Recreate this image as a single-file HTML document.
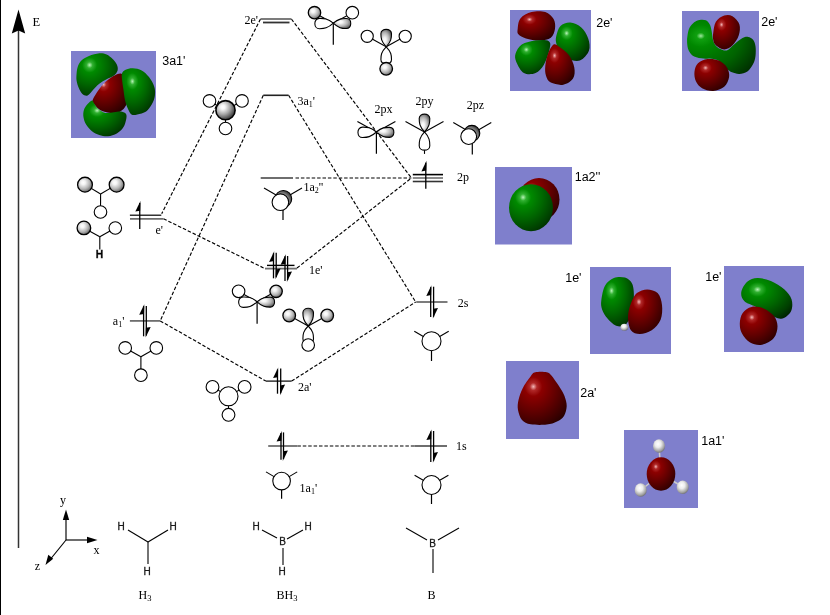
<!DOCTYPE html>
<html><head><meta charset="utf-8"><style>
html,body{margin:0;padding:0;background:#fff;width:830px;height:615px;overflow:hidden}
svg{display:block;will-change:transform}
</style></head><body>
<svg width="830" height="615" viewBox="0 0 830 615">
<defs>
<radialGradient id="gs" cx="0.38" cy="0.36" r="0.72"><stop offset="0" stop-color="#fff"/><stop offset="0.2" stop-color="#f4f4f4"/><stop offset="0.6" stop-color="#b4b4b4"/><stop offset="0.85" stop-color="#787878"/><stop offset="1" stop-color="#484848"/></radialGradient>
<radialGradient id="gr" cx="0.32" cy="0.28" r="0.9"><stop offset="0" stop-color="#f4b8b8"/><stop offset="0.08" stop-color="#b02828"/><stop offset="0.2" stop-color="#8c0000"/><stop offset="0.5" stop-color="#640000"/><stop offset="0.8" stop-color="#3a0000"/><stop offset="1" stop-color="#1a0000"/></radialGradient>
<radialGradient id="gg" cx="0.32" cy="0.28" r="0.9"><stop offset="0" stop-color="#b8f4b8"/><stop offset="0.08" stop-color="#30b030"/><stop offset="0.2" stop-color="#008a00"/><stop offset="0.5" stop-color="#006600"/><stop offset="0.8" stop-color="#003e00"/><stop offset="1" stop-color="#001a00"/></radialGradient>
<radialGradient id="gg2" cx="0.2" cy="0.3" r="1.0"><stop offset="0" stop-color="#a0e8a0"/><stop offset="0.06" stop-color="#10a010"/><stop offset="0.2" stop-color="#008800"/><stop offset="0.6" stop-color="#006200"/><stop offset="1" stop-color="#002600"/></radialGradient>
<radialGradient id="gd" cx="0.3" cy="0.7" r="0.9"><stop offset="0.5" stop-color="#aaa"/><stop offset="0.75" stop-color="#555"/><stop offset="1" stop-color="#111"/></radialGradient>
<radialGradient id="gs2" cx="0.36" cy="0.34" r="0.75"><stop offset="0" stop-color="#fff"/><stop offset="0.15" stop-color="#f6f6f6"/><stop offset="0.5" stop-color="#a8a8a8"/><stop offset="0.8" stop-color="#555"/><stop offset="1" stop-color="#222"/></radialGradient>
<radialGradient id="gh" cx="0.42" cy="0.35" r="0.72"><stop offset="0" stop-color="#fff"/><stop offset="0.35" stop-color="#ececec"/><stop offset="0.75" stop-color="#a0a0a0"/><stop offset="1" stop-color="#5a5a5a"/></radialGradient>
</defs>
<rect x="0" y="0" width="830" height="615" fill="#fff"/>
<rect x="0" y="0" width="1" height="615" fill="#000"/>
<line x1="18.5" y1="30" x2="18.5" y2="548" stroke="#333" stroke-width="1.5" />
<path d="M18.5,9.5 L11.8,33.5 L18.5,30.5 L25.2,33.5 Z" fill="#000"/>
<text x="32.5" y="26.3" font-family="Liberation Serif" font-size="12.5" fill="#000" text-anchor="start" >E</text>
<line x1="260.5" y1="19" x2="161.7" y2="213.7" stroke="#000" stroke-width="1.15" stroke-dasharray="3.5,1.9" />
<line x1="291.4" y1="19" x2="411.4" y2="178" stroke="#000" stroke-width="1.15" stroke-dasharray="3.5,1.9" />
<line x1="263.3" y1="95.3" x2="160.2" y2="320.9" stroke="#000" stroke-width="1.15" stroke-dasharray="3.5,1.9" />
<line x1="288.6" y1="95.3" x2="415.7" y2="302" stroke="#000" stroke-width="1.15" stroke-dasharray="3.5,1.9" />
<line x1="295.5" y1="178" x2="411.4" y2="178" stroke="#000" stroke-width="1.15" stroke-dasharray="3.5,1.9" />
<line x1="163.5" y1="218.8" x2="265" y2="268.6" stroke="#000" stroke-width="1.15" stroke-dasharray="3.5,1.9" />
<line x1="297" y1="268" x2="411.4" y2="178" stroke="#000" stroke-width="1.15" stroke-dasharray="3.5,1.9" />
<line x1="160.2" y1="320.9" x2="265.8" y2="381.1" stroke="#000" stroke-width="1.15" stroke-dasharray="3.5,1.9" />
<line x1="291.6" y1="381.1" x2="415.7" y2="302" stroke="#000" stroke-width="1.15" stroke-dasharray="3.5,1.9" />
<line x1="297.4" y1="446" x2="414.3" y2="446" stroke="#000" stroke-width="1.15" stroke-dasharray="3.5,1.9" />
<line x1="260.5" y1="19" x2="291.4" y2="19" stroke="#6e6e6e" stroke-width="1.8" />
<line x1="263" y1="22.5" x2="289.5" y2="22.5" stroke="#333" stroke-width="1.8" />
<text x="258" y="23.5" font-family="Liberation Serif" font-size="12" fill="#000" text-anchor="end" >2e'</text>
<line x1="263.3" y1="95.3" x2="288.6" y2="95.3" stroke="#222" stroke-width="1.6" />
<text x="297.5" y="104.7" font-family="Liberation Serif" font-size="12" fill="#000" text-anchor="start" >3a<tspan font-size='8' dy='2'>1</tspan><tspan dy='-2'>'</tspan></text>
<line x1="260.7" y1="178" x2="293" y2="178" stroke="#6e6e6e" stroke-width="2" />
<text x="303.5" y="191" font-family="Liberation Serif" font-size="12" fill="#000" text-anchor="start" >1a<tspan font-size='8' dy='2'>2</tspan><tspan dy='-2'>''</tspan></text>
<line x1="412.8" y1="174.6" x2="443" y2="174.6" stroke="#000" stroke-width="1.6" />
<line x1="412.8" y1="178" x2="443" y2="178" stroke="#6e6e6e" stroke-width="1.6" />
<line x1="412.8" y1="181.5" x2="443" y2="181.5" stroke="#333" stroke-width="1.6" />
<line x1="425.8" y1="162.8" x2="425.8" y2="188.7" stroke="#000" stroke-width="1.3"/>
<path d="M426.5,160.8 L421.40000000000003,171.4 L426.2,170.60000000000002 Z" fill="#000"/>
<text x="457" y="181" font-family="Liberation Serif" font-size="12" fill="#000" text-anchor="start" >2p</text>
<line x1="129.9" y1="215.3" x2="161.3" y2="215.3" stroke="#333" stroke-width="1.6" />
<line x1="130" y1="218.8" x2="163.5" y2="218.8" stroke="#6e6e6e" stroke-width="1.8" />
<line x1="139.75" y1="202.9" x2="139.75" y2="229" stroke="#000" stroke-width="1.3"/>
<path d="M140.45,200.9 L135.35,211.5 L140.15,210.70000000000002 Z" fill="#000"/>
<text x="155.5" y="234" font-family="Liberation Serif" font-size="12" fill="#000" text-anchor="start" >e'</text>
<line x1="267" y1="265.4" x2="294.5" y2="265.4" stroke="#000" stroke-width="1.4" />
<line x1="265" y1="268.6" x2="297" y2="268.6" stroke="#6e6e6e" stroke-width="1.8" />
<line x1="273.5" y1="253.3" x2="273.5" y2="278.3" stroke="#000" stroke-width="1.3"/>
<path d="M274.2,251.3 L269.1,261.90000000000003 L273.9,261.1 Z" fill="#000"/>
<line x1="276.2" y1="252.7" x2="276.2" y2="277.2" stroke="#000" stroke-width="1.3"/>
<path d="M275.5,279.2 L280.59999999999997,268.59999999999997 L275.8,269.4 Z" fill="#000"/>
<line x1="285" y1="256.2" x2="285" y2="281" stroke="#000" stroke-width="1.3"/>
<path d="M285.7,254.2 L280.6,264.8 L285.4,264.0 Z" fill="#000"/>
<line x1="287.6" y1="256" x2="287.6" y2="280" stroke="#000" stroke-width="1.3"/>
<path d="M286.90000000000003,282 L292.0,271.4 L287.20000000000005,272.2 Z" fill="#000"/>
<text x="309" y="274.4" font-family="Liberation Serif" font-size="12" fill="#000" text-anchor="start" >1e'</text>
<line x1="129.9" y1="320.9" x2="160.2" y2="320.9" stroke="#6e6e6e" stroke-width="1.8" />
<line x1="143.6" y1="306.2" x2="143.6" y2="336.3" stroke="#000" stroke-width="1.3"/>
<path d="M144.29999999999998,304.2 L139.2,314.8 L144.0,314.0 Z" fill="#000"/>
<line x1="146.3" y1="305.9" x2="146.3" y2="335.5" stroke="#000" stroke-width="1.3"/>
<path d="M145.60000000000002,337.5 L150.70000000000002,326.9 L145.9,327.7 Z" fill="#000"/>
<text x="112.8" y="324.9" font-family="Liberation Serif" font-size="12" fill="#000" text-anchor="start" >a<tspan font-size='8' dy='2'>1</tspan><tspan dy='-2'>'</tspan></text>
<line x1="416.2" y1="302" x2="447.5" y2="302" stroke="#6e6e6e" stroke-width="1.8" />
<line x1="430.7" y1="287.3" x2="430.7" y2="317" stroke="#000" stroke-width="1.3"/>
<path d="M431.4,285.3 L426.3,295.90000000000003 L431.09999999999997,295.1 Z" fill="#000"/>
<line x1="433.6" y1="286.7" x2="433.6" y2="316.6" stroke="#000" stroke-width="1.3"/>
<path d="M432.90000000000003,318.6 L438.0,308.0 L433.20000000000005,308.8 Z" fill="#000"/>
<text x="457.8" y="306.5" font-family="Liberation Serif" font-size="12" fill="#000" text-anchor="start" >2s</text>
<line x1="265.8" y1="381.1" x2="291.6" y2="381.1" stroke="#000" stroke-width="1.2" />
<line x1="277.5" y1="369.5" x2="277.5" y2="393.7" stroke="#000" stroke-width="1.3"/>
<path d="M278.2,367.5 L273.1,378.1 L277.9,377.3 Z" fill="#000"/>
<line x1="280.7" y1="368.6" x2="280.7" y2="393.2" stroke="#000" stroke-width="1.3"/>
<path d="M280.0,395.2 L285.09999999999997,384.59999999999997 L280.3,385.4 Z" fill="#000"/>
<text x="297.9" y="390.5" font-family="Liberation Serif" font-size="12" fill="#000" text-anchor="start" >2a'</text>
<line x1="268.2" y1="446" x2="297.4" y2="446" stroke="#6e6e6e" stroke-width="1.8" />
<line x1="281" y1="433" x2="281" y2="459.8" stroke="#000" stroke-width="1.3"/>
<path d="M281.7,431 L276.6,441.6 L281.4,440.8 Z" fill="#000"/>
<line x1="283.5" y1="432.4" x2="283.5" y2="459" stroke="#000" stroke-width="1.3"/>
<path d="M282.8,461 L287.9,450.4 L283.1,451.2 Z" fill="#000"/>
<text x="299.6" y="492" font-family="Liberation Serif" font-size="12" fill="#000" text-anchor="start" >1a<tspan font-size='8' dy='2'>1</tspan><tspan dy='-2'>'</tspan></text>
<line x1="414.3" y1="446" x2="447" y2="446" stroke="#6e6e6e" stroke-width="1.8" />
<line x1="430.8" y1="431.4" x2="430.8" y2="461.9" stroke="#000" stroke-width="1.3"/>
<path d="M431.5,429.4 L426.40000000000003,440.0 L431.2,439.2 Z" fill="#000"/>
<line x1="433.6" y1="431" x2="433.6" y2="460.7" stroke="#000" stroke-width="1.3"/>
<path d="M432.90000000000003,462.7 L438.0,452.09999999999997 L433.20000000000005,452.9 Z" fill="#000"/>
<text x="456" y="450" font-family="Liberation Serif" font-size="12" fill="#000" text-anchor="start" >1s</text>
<line x1="100.6" y1="194" x2="85" y2="184.65" stroke="#000" stroke-width="1.1" />
<line x1="100.6" y1="194" x2="116.6" y2="184.65" stroke="#000" stroke-width="1.1" />
<line x1="100.6" y1="194" x2="100.5" y2="212" stroke="#000" stroke-width="1.1" />
<circle cx="85" cy="184.65" r="7.4" fill="url(#gs)" stroke="#000" stroke-width="1.3"/>
<circle cx="116.6" cy="184.65" r="7.4" fill="url(#gs)" stroke="#000" stroke-width="1.3"/>
<circle cx="100.5" cy="212" r="6.3" fill="#fff" stroke="#000" stroke-width="1.1"/>
<line x1="99.8" y1="236.7" x2="83.9" y2="227.9" stroke="#000" stroke-width="1.1" />
<line x1="99.8" y1="236.7" x2="115.3" y2="228" stroke="#000" stroke-width="1.1" />
<line x1="99.8" y1="236.7" x2="99.8" y2="249.5" stroke="#000" stroke-width="1.1" />
<circle cx="83.9" cy="227.9" r="6.8" fill="url(#gs)" stroke="#000" stroke-width="1.3"/>
<circle cx="115.3" cy="228" r="6.3" fill="#fff" stroke="#000" stroke-width="1.1"/>
<text x="99.5" y="257.8" font-family="Liberation Sans" font-size="10.3" fill="#000" text-anchor="middle" font-weight="bold" fill="#2a2a2a" stroke="#2a2a2a" stroke-width="0.35">H</text>
<line x1="140.9" y1="356.7" x2="125.2" y2="347.9" stroke="#000" stroke-width="1.1" />
<line x1="140.9" y1="356.7" x2="156.3" y2="347.9" stroke="#000" stroke-width="1.1" />
<line x1="140.9" y1="356.7" x2="140.9" y2="375.2" stroke="#000" stroke-width="1.1" />
<circle cx="125.2" cy="347.9" r="6.3" fill="#fff" stroke="#000" stroke-width="1.1"/>
<circle cx="156.3" cy="347.9" r="6.3" fill="#fff" stroke="#000" stroke-width="1.1"/>
<circle cx="140.9" cy="375.2" r="6.3" fill="#fff" stroke="#000" stroke-width="1.1"/>
<line x1="225.5" y1="110.2" x2="209.5" y2="100.9" stroke="#000" stroke-width="1.1" />
<line x1="225.5" y1="110.2" x2="242" y2="100.9" stroke="#000" stroke-width="1.1" />
<line x1="225.5" y1="110.2" x2="225.5" y2="128.5" stroke="#000" stroke-width="1.1" />
<circle cx="209.5" cy="100.9" r="6.3" fill="#fff" stroke="#000" stroke-width="1.1"/>
<circle cx="242" cy="100.9" r="6.3" fill="#fff" stroke="#000" stroke-width="1.1"/>
<circle cx="225.5" cy="128.5" r="6.3" fill="#fff" stroke="#000" stroke-width="1.1"/>
<circle cx="225.5" cy="110.2" r="9.6" fill="url(#gs2)" stroke="#000" stroke-width="1.6"/>
<line x1="228.5" y1="396.3" x2="212.5" y2="386.9" stroke="#000" stroke-width="1.1" />
<line x1="228.5" y1="396.3" x2="244.6" y2="386.9" stroke="#000" stroke-width="1.1" />
<line x1="228.5" y1="396.3" x2="228.5" y2="414.8" stroke="#000" stroke-width="1.1" />
<circle cx="212.5" cy="386.9" r="6.4" fill="#fff" stroke="#000" stroke-width="1.1"/>
<circle cx="244.6" cy="386.9" r="6.4" fill="#fff" stroke="#000" stroke-width="1.1"/>
<circle cx="228.5" cy="414.8" r="6.4" fill="#fff" stroke="#000" stroke-width="1.1"/>
<circle cx="228.5" cy="396.3" r="9.5" fill="#fff" stroke="#000" stroke-width="1.1"/>
<line x1="333.3" y1="23.2" x2="333.3" y2="44.7" stroke="#000" stroke-width="1.2" />
<line x1="333.3" y1="23.2" x2="314.3" y2="12.7" stroke="#000" stroke-width="1.1" />
<line x1="333.3" y1="23.2" x2="352.3" y2="12.7" stroke="#000" stroke-width="1.1" />
<path transform="translate(333.3,23.2) rotate(178.5)" d="M0,0 C5.55,-4.94 9.25,-5.20 13.88,-5.20 C19.98,-5.20 19.98,5.20 13.88,5.20 C9.25,5.20 5.55,4.94 0,0 Z" fill="#fff" stroke="#000" stroke-width="1.1" stroke-linejoin="round"/>
<path transform="translate(333.3,23.2) rotate(1.5)" d="M0,0 C5.25,-4.75 8.75,-5.00 13.12,-5.00 C18.90,-5.00 18.90,5.00 13.12,5.00 C8.75,5.00 5.25,4.75 0,0 Z" fill="url(#gs)" stroke="#000" stroke-width="1.1" stroke-linejoin="round"/>
<circle cx="314.5" cy="12.7" r="6.2" fill="url(#gs)" stroke="#000" stroke-width="1.3"/>
<circle cx="352.3" cy="12.7" r="6.3" fill="#fff" stroke="#000" stroke-width="1.1"/>
<line x1="257.1" y1="301.8" x2="257.1" y2="323.8" stroke="#000" stroke-width="1.2" />
<line x1="257.1" y1="301.8" x2="238.10000000000002" y2="291.3" stroke="#000" stroke-width="1.1" />
<line x1="257.1" y1="301.8" x2="276.1" y2="291.3" stroke="#000" stroke-width="1.1" />
<path transform="translate(257.1,301.8) rotate(178.5)" d="M0,0 C5.55,-4.94 9.25,-5.20 13.88,-5.20 C19.98,-5.20 19.98,5.20 13.88,5.20 C9.25,5.20 5.55,4.94 0,0 Z" fill="#fff" stroke="#000" stroke-width="1.1" stroke-linejoin="round"/>
<path transform="translate(257.1,301.8) rotate(1.5)" d="M0,0 C5.25,-4.75 8.75,-5.00 13.12,-5.00 C18.90,-5.00 18.90,5.00 13.12,5.00 C8.75,5.00 5.25,4.75 0,0 Z" fill="url(#gs)" stroke="#000" stroke-width="1.1" stroke-linejoin="round"/>
<circle cx="238.60000000000002" cy="291.3" r="6.3" fill="#fff" stroke="#000" stroke-width="1.1"/>
<circle cx="276.1" cy="291.3" r="6.2" fill="url(#gs)" stroke="#000" stroke-width="1.3"/>
<line x1="376.4" y1="132" x2="376.4" y2="153.7" stroke="#000" stroke-width="1.2" />
<line x1="376.4" y1="132" x2="357.4" y2="121.5" stroke="#000" stroke-width="1.1" />
<line x1="376.4" y1="132" x2="395.4" y2="121.5" stroke="#000" stroke-width="1.1" />
<path transform="translate(376.4,132) rotate(178.5)" d="M0,0 C5.55,-4.94 9.25,-5.20 13.88,-5.20 C19.98,-5.20 19.98,5.20 13.88,5.20 C9.25,5.20 5.55,4.94 0,0 Z" fill="#fff" stroke="#000" stroke-width="1.1" stroke-linejoin="round"/>
<path transform="translate(376.4,132) rotate(1.5)" d="M0,0 C5.25,-4.75 8.75,-5.00 13.12,-5.00 C18.90,-5.00 18.90,5.00 13.12,5.00 C8.75,5.00 5.25,4.75 0,0 Z" fill="url(#gs)" stroke="#000" stroke-width="1.1" stroke-linejoin="round"/>
<line x1="386.2" y1="46.8" x2="367.2" y2="36.3" stroke="#000" stroke-width="1.1" />
<line x1="386.2" y1="46.8" x2="405.2" y2="36.3" stroke="#000" stroke-width="1.1" />
<path transform="translate(386.2,46.8) rotate(-90)" d="M0,0 C5.25,-5.03 8.75,-5.30 13.12,-5.30 C18.90,-5.30 18.90,5.30 13.12,5.30 C8.75,5.30 5.25,5.03 0,0 Z" fill="url(#gs)" stroke="#000" stroke-width="1.1" stroke-linejoin="round"/>
<path transform="translate(386.2,46.8) rotate(90)" d="M0,0 C5.10,-5.03 8.50,-5.30 12.75,-5.30 C18.36,-5.30 18.36,5.30 12.75,5.30 C8.50,5.30 5.10,5.03 0,0 Z" fill="#fff" stroke="#000" stroke-width="1.1" stroke-linejoin="round"/>
<circle cx="367.2" cy="36.3" r="6.1" fill="#fff" stroke="#000" stroke-width="1.1"/>
<circle cx="405.2" cy="36.3" r="6.1" fill="#fff" stroke="#000" stroke-width="1.1"/>
<circle cx="386.2" cy="68.8" r="6.3" fill="url(#gs)" stroke="#000" stroke-width="1.3"/>
<line x1="308.2" y1="326" x2="289.2" y2="315.5" stroke="#000" stroke-width="1.1" />
<line x1="308.2" y1="326" x2="327.2" y2="315.5" stroke="#000" stroke-width="1.1" />
<path transform="translate(308.2,326) rotate(-90)" d="M0,0 C5.34,-5.03 8.90,-5.30 13.35,-5.30 C19.22,-5.30 19.22,5.30 13.35,5.30 C8.90,5.30 5.34,5.03 0,0 Z" fill="url(#gs)" stroke="#000" stroke-width="1.1" stroke-linejoin="round"/>
<path transform="translate(308.2,326) rotate(90)" d="M0,0 C5.10,-5.03 8.50,-5.30 12.75,-5.30 C18.36,-5.30 18.36,5.30 12.75,5.30 C8.50,5.30 5.10,5.03 0,0 Z" fill="#fff" stroke="#000" stroke-width="1.1" stroke-linejoin="round"/>
<circle cx="289.2" cy="315.5" r="6.3" fill="url(#gs)" stroke="#000" stroke-width="1.3"/>
<circle cx="327.2" cy="315.5" r="6.3" fill="url(#gs)" stroke="#000" stroke-width="1.3"/>
<circle cx="308.2" cy="345" r="6.3" fill="#fff" stroke="#000" stroke-width="1.1"/>
<line x1="424.5" y1="131.9" x2="405.5" y2="121.4" stroke="#000" stroke-width="1.1" />
<line x1="424.5" y1="131.9" x2="443.5" y2="121.4" stroke="#000" stroke-width="1.1" />
<line x1="424.5" y1="131.9" x2="424.5" y2="153.9" stroke="#000" stroke-width="1.1" />
<path transform="translate(424.5,131.9) rotate(-90)" d="M0,0 C5.34,-5.03 8.90,-5.30 13.35,-5.30 C19.22,-5.30 19.22,5.30 13.35,5.30 C8.90,5.30 5.34,5.03 0,0 Z" fill="url(#gs)" stroke="#000" stroke-width="1.1" stroke-linejoin="round"/>
<path transform="translate(424.5,131.9) rotate(90)" d="M0,0 C5.49,-5.03 9.15,-5.30 13.73,-5.30 C19.76,-5.30 19.76,5.30 13.73,5.30 C9.15,5.30 5.49,5.03 0,0 Z" fill="#fff" stroke="#000" stroke-width="1.1" stroke-linejoin="round"/>
<line x1="283" y1="199" x2="264" y2="188" stroke="#000" stroke-width="1.1" />
<line x1="283" y1="199" x2="302" y2="188" stroke="#000" stroke-width="1.1" />
<line x1="283" y1="199" x2="283" y2="220" stroke="#000" stroke-width="1.2" />
<circle cx="283.4" cy="198.8" r="8.3" fill="url(#gd)" stroke="#000" stroke-width="1.1"/>
<circle cx="280.4" cy="202.2" r="8.3" fill="#fff" stroke="#000" stroke-width="1.1"/>
<line x1="472.3" y1="133.5" x2="453.3" y2="122.5" stroke="#000" stroke-width="1.1" />
<line x1="472.3" y1="133.5" x2="491.3" y2="122.5" stroke="#000" stroke-width="1.1" />
<line x1="472.3" y1="133.5" x2="472.3" y2="154.5" stroke="#000" stroke-width="1.2" />
<circle cx="471.9" cy="133.3" r="7.9" fill="url(#gd)" stroke="#000" stroke-width="1.1"/>
<circle cx="468.7" cy="136.6" r="7.9" fill="#fff" stroke="#000" stroke-width="1.1"/>
<line x1="431.5" y1="341.2" x2="414.3" y2="331.25" stroke="#000" stroke-width="1.1" />
<line x1="431.5" y1="341.2" x2="448.7" y2="331.25" stroke="#000" stroke-width="1.1" />
<line x1="431.5" y1="341.2" x2="431.5" y2="361" stroke="#000" stroke-width="1.2" />
<circle cx="431.5" cy="341.2" r="9.5" fill="#fff" stroke="#000" stroke-width="1.1"/>
<line x1="431.5" y1="485" x2="414.6" y2="475.3" stroke="#000" stroke-width="1.1" />
<line x1="431.5" y1="485" x2="448.4" y2="475.3" stroke="#000" stroke-width="1.1" />
<line x1="431.5" y1="485" x2="431.5" y2="504" stroke="#000" stroke-width="1.2" />
<circle cx="431.5" cy="485" r="9.5" fill="#fff" stroke="#000" stroke-width="1.1"/>
<line x1="281.6" y1="481.1" x2="266" y2="471.9" stroke="#000" stroke-width="1.1" />
<line x1="281.6" y1="481.1" x2="297.20000000000005" y2="471.9" stroke="#000" stroke-width="1.1" />
<line x1="281.6" y1="481.1" x2="281.6" y2="498.7" stroke="#000" stroke-width="1.2" />
<circle cx="281.6" cy="481.1" r="8.8" fill="#fff" stroke="#000" stroke-width="1.1"/>
<line x1="66" y1="540" x2="66" y2="514" stroke="#000" stroke-width="1.15" />
<path d="M66,509.5 L62.8,520 L69.2,520 Z" fill="#000"/>
<line x1="66" y1="540" x2="92" y2="540" stroke="#000" stroke-width="1.15" />
<path d="M97.5,540 L87,536.8 L87,543.2 Z" fill="#000"/>
<line x1="66" y1="540" x2="49" y2="561" stroke="#000" stroke-width="1.15" />
<path d="M45.5,565 L48.3,554.8 L53.2,558.8 Z" fill="#000"/>
<text x="63" y="503.5" font-family="Liberation Serif" font-size="12" fill="#000" text-anchor="middle" >y</text>
<text x="96.5" y="553.8" font-family="Liberation Serif" font-size="12" fill="#000" text-anchor="middle" >x</text>
<text x="37.5" y="569.8" font-family="Liberation Serif" font-size="12" fill="#000" text-anchor="middle" >z</text>
<line x1="148" y1="542" x2="128" y2="530" stroke="#000" stroke-width="1.1" />
<line x1="148" y1="542" x2="168" y2="530" stroke="#000" stroke-width="1.1" />
<line x1="148" y1="542" x2="148" y2="564" stroke="#000" stroke-width="1.1" />
<text x="121" y="530" font-family="Liberation Sans" font-size="10" fill="#000" text-anchor="middle" fill="#333" stroke="#333" stroke-width="0.3">H</text>
<text x="173" y="530" font-family="Liberation Sans" font-size="10" fill="#000" text-anchor="middle" fill="#333" stroke="#333" stroke-width="0.3">H</text>
<text x="147" y="574.5" font-family="Liberation Sans" font-size="10" fill="#000" text-anchor="middle" fill="#333" stroke="#333" stroke-width="0.3">H</text>
<text x="145" y="598.8" font-family="Liberation Serif" font-size="12" fill="#000" text-anchor="middle" >H<tspan font-size="8.5" dy="1.7">3</tspan></text>
<line x1="262" y1="530" x2="277" y2="538" stroke="#000" stroke-width="1.1" />
<line x1="287" y1="539" x2="303" y2="530" stroke="#000" stroke-width="1.1" />
<line x1="283" y1="548" x2="283" y2="565" stroke="#000" stroke-width="1.1" />
<text x="282.5" y="545" font-family="Liberation Sans" font-size="10" fill="#000" text-anchor="middle" fill="#333" stroke="#333" stroke-width="0.3">B</text>
<text x="256" y="530" font-family="Liberation Sans" font-size="10" fill="#000" text-anchor="middle" fill="#333" stroke="#333" stroke-width="0.3">H</text>
<text x="308" y="530" font-family="Liberation Sans" font-size="10" fill="#000" text-anchor="middle" fill="#333" stroke="#333" stroke-width="0.3">H</text>
<text x="282" y="574.5" font-family="Liberation Sans" font-size="10" fill="#000" text-anchor="middle" fill="#333" stroke="#333" stroke-width="0.3">H</text>
<text x="287" y="598.8" font-family="Liberation Serif" font-size="12" fill="#000" text-anchor="middle" >BH<tspan font-size="8.5" dy="1.7">3</tspan></text>
<line x1="406" y1="528" x2="427" y2="540" stroke="#000" stroke-width="1.1" />
<line x1="438" y1="540" x2="459" y2="528" stroke="#000" stroke-width="1.1" />
<line x1="433" y1="549" x2="433" y2="573" stroke="#000" stroke-width="1.1" />
<text x="432.5" y="547" font-family="Liberation Sans" font-size="10" fill="#000" text-anchor="middle" fill="#333" stroke="#333" stroke-width="0.3">B</text>
<text x="431.5" y="599" font-family="Liberation Serif" font-size="12" fill="#000" text-anchor="middle" >B</text>
<text x="383.5" y="113" font-family="Liberation Serif" font-size="12" fill="#000" text-anchor="middle" >2px</text>
<text x="424.5" y="105" font-family="Liberation Serif" font-size="12" fill="#000" text-anchor="middle" >2py</text>
<text x="475.5" y="109.3" font-family="Liberation Serif" font-size="12" fill="#000" text-anchor="middle" >2pz</text>
<rect x="510" y="10" width="81" height="81" fill="#7f7fcc"/>
<path d="M517.7,28.7 C518.0,26.1 518.1,21.2 520.4,18.4 C522.7,15.6 527.4,13.1 531.5,12.1 C535.6,11.1 541.6,10.9 545.3,12.1 C549.0,13.3 552.0,16.3 553.6,19.1 C555.2,21.9 555.5,25.6 555.0,28.7 C554.5,31.8 553.3,35.7 550.8,37.7 C548.3,39.7 543.9,40.4 539.8,40.5 C535.7,40.6 529.6,39.4 526.0,38.4 C522.4,37.4 519.8,35.9 518.4,34.3 C517.0,32.7 517.4,31.3 517.7,28.7 Z" fill="url(#gr)"/>
<path d="M556.4,35.6 C557.1,32.8 558.2,28.2 560.5,26.0 C562.8,23.8 566.7,22.3 570.2,22.5 C573.7,22.7 578.3,24.8 581.3,27.4 C584.3,30.0 586.9,34.5 588.2,38.4 C589.5,42.3 590.3,47.1 588.9,50.8 C587.5,54.5 583.5,59.2 579.9,60.5 C576.3,61.8 570.9,60.2 567.4,58.4 C563.9,56.6 561.0,52.1 559.1,49.5 C557.2,46.9 556.6,44.9 556.1,42.6 C555.6,40.3 555.7,38.4 556.4,35.6 Z" fill="url(#gg)"/>
<path d="M515.6,53.6 C516.5,50.7 518.5,46.8 521.8,44.6 C525.1,42.4 531.1,41.1 535.6,40.5 C540.1,39.9 546.5,39.7 548.8,41.2 C551.1,42.7 550.3,45.6 549.5,49.5 C548.7,53.4 546.2,60.8 543.9,64.7 C541.6,68.6 538.9,71.6 535.6,73.0 C532.3,74.4 527.1,74.8 523.9,73.0 C520.7,71.2 517.7,65.1 516.3,61.9 C514.9,58.7 514.7,56.5 515.6,53.6 Z" fill="url(#gg)"/>
<path d="M545.3,66.0 C545.6,62.3 546.7,57.2 548.1,53.6 C549.5,50.0 551.8,45.8 553.6,44.6 C555.4,43.5 556.6,45.0 559.1,46.7 C561.6,48.4 566.3,51.5 568.8,55.0 C571.3,58.5 573.6,63.5 574.3,67.4 C575.0,71.3 574.8,75.6 573.0,78.5 C571.2,81.4 567.0,84.0 563.3,84.7 C559.6,85.4 553.7,84.1 550.8,82.6 C547.9,81.1 546.9,78.5 546.0,75.7 C545.1,72.9 544.9,69.7 545.3,66.0 Z" fill="url(#gr)"/>
<text x="596.2" y="26.7" font-family="Liberation Sans" font-size="12.5" fill="#000" text-anchor="start" fill="#111">2e'</text>
<rect x="682" y="11" width="77" height="80" fill="#7f7fcc"/>
<path d="M687.1,42.6 C686.9,40.1 687.1,38.0 687.5,35.5 C687.9,33.0 688.4,29.9 689.5,27.7 C690.6,25.5 692.5,23.6 694.2,22.2 C695.9,20.9 697.7,20.2 699.6,19.9 C701.5,19.6 704.2,19.5 705.9,20.3 C707.6,21.1 708.8,22.7 709.8,24.6 C710.8,26.5 711.2,29.1 711.7,31.6 C712.2,34.1 712.3,37.2 712.9,39.4 C713.5,41.6 714.1,43.3 715.2,44.9 C716.4,46.5 718.4,47.9 719.9,48.8 C721.4,49.7 722.7,50.2 724.0,50.4 C725.3,50.6 726.2,50.9 727.9,49.9 C729.6,48.9 732.0,46.2 734.4,44.2 C736.8,42.2 740.2,39.3 742.5,38.1 C744.8,36.9 746.4,36.6 748.2,36.9 C750.0,37.2 751.9,38.2 753.1,39.8 C754.3,41.4 755.1,43.6 755.5,46.3 C755.9,49.0 755.9,53.0 755.5,56.0 C755.1,59.0 754.5,61.5 753.1,64.1 C751.8,66.7 749.7,69.9 747.4,71.5 C745.1,73.1 741.9,73.8 739.3,73.9 C736.7,74.0 734.0,73.1 732.0,72.3 C730.0,71.5 728.7,70.4 727.1,69.0 C725.5,67.6 723.8,65.6 722.2,64.1 C720.6,62.6 719.3,61.0 717.3,60.1 C715.3,59.2 712.3,58.8 710.0,58.5 C707.7,58.2 706.1,58.9 703.5,58.6 C700.9,58.3 696.7,58.0 694.2,56.6 C691.7,55.2 689.9,52.7 688.7,50.4 C687.5,48.1 687.3,45.1 687.1,42.6 Z" fill="url(#gg2)"/>
<path d="M713.2,32.9 C713.7,29.9 714.1,24.7 715.9,21.8 C717.7,18.9 721.4,16.5 724.2,15.6 C727.0,14.7 730.0,14.8 732.5,16.3 C735.0,17.8 738.4,21.4 739.4,24.6 C740.4,27.8 739.9,32.2 738.7,35.6 C737.6,39.0 734.9,43.0 732.5,45.3 C730.1,47.6 727.0,49.5 724.2,49.5 C721.4,49.5 717.7,46.9 715.9,45.3 C714.1,43.7 713.7,41.9 713.2,39.8 C712.8,37.7 712.8,35.9 713.2,32.9 Z" fill="url(#gr)"/>
<path d="M694.5,71.6 C694.9,68.6 695.8,65.4 698.0,63.3 C700.2,61.2 704.1,59.6 707.6,59.1 C711.1,58.6 715.5,59.1 718.7,60.5 C721.9,61.9 725.3,64.6 727.0,67.4 C728.7,70.2 729.6,73.9 729.1,77.1 C728.6,80.3 726.9,84.5 724.2,86.8 C721.6,89.1 716.9,90.7 713.2,90.9 C709.5,91.1 705.0,89.8 702.1,88.2 C699.2,86.6 697.2,84.1 695.9,81.3 C694.6,78.5 694.1,74.6 694.5,71.6 Z" fill="url(#gr)"/>
<text x="761.2" y="25.7" font-family="Liberation Sans" font-size="12.5" fill="#000" text-anchor="start" fill="#111">2e'</text>
<rect x="71" y="51" width="85" height="87" fill="#7f7fcc"/>
<path d="M93.4,98.3 C95.2,94.7 100.6,86.3 105.1,82.2 C109.6,78.1 117.2,73.2 120.5,73.5 C123.8,73.8 123.9,78.8 125.0,83.7 C126.1,88.6 128.2,97.9 127.0,102.7 C125.8,107.5 122.1,111.1 118.0,112.5 C113.9,113.9 106.2,112.4 102.2,111.0 C98.2,109.6 95.6,106.2 94.1,104.1 C92.6,102.0 91.6,101.9 93.4,98.3 Z" fill="url(#gr)"/>
<path d="M76.6,73.4 C76.8,71.0 77.2,68.3 78.0,66.1 C78.8,63.9 79.9,61.9 81.7,60.2 C83.5,58.5 86.1,57.1 89.0,55.9 C91.9,54.7 96.4,53.5 99.3,53.2 C102.2,53.0 104.4,53.5 106.6,54.4 C108.8,55.3 110.7,57.1 112.4,58.8 C114.1,60.5 115.9,62.6 116.8,64.6 C117.7,66.5 118.1,68.7 117.6,70.5 C117.1,72.3 115.7,74.1 113.9,75.6 C112.1,77.1 109.0,77.9 106.6,79.3 C104.2,80.7 101.5,82.0 99.3,83.7 C97.1,85.4 95.4,87.5 93.4,89.5 C91.5,91.5 89.4,94.7 87.6,95.4 C85.8,96.1 83.9,95.1 82.4,93.9 C80.9,92.7 79.8,90.2 78.8,88.0 C77.8,85.8 77.0,83.1 76.6,80.7 C76.2,78.3 76.4,75.8 76.6,73.4 Z" fill="url(#gg)"/>
<path d="M122.0,73.4 C122.6,71.8 123.8,70.7 125.6,69.8 C127.4,68.9 130.2,68.2 132.9,68.3 C135.6,68.4 139.0,69.0 141.7,70.5 C144.4,72.0 146.9,74.4 149.0,77.1 C151.1,79.8 153.2,83.5 154.2,86.6 C155.2,89.6 155.3,92.5 154.9,95.4 C154.5,98.3 153.5,101.4 152.0,104.1 C150.5,106.8 148.5,109.8 146.1,111.5 C143.7,113.2 139.7,113.9 137.3,114.4 C134.9,114.9 133.1,115.4 131.5,114.4 C129.9,113.4 128.9,110.9 127.8,108.5 C126.7,106.1 125.6,103.0 124.9,99.8 C124.2,96.6 123.9,92.9 123.4,89.5 C122.9,86.1 122.2,82.0 122.0,79.3 C121.8,76.6 121.4,75.0 122.0,73.4 Z" fill="url(#gg)"/>
<path d="M92.0,100.5 C90.9,100.6 88.9,102.5 87.6,104.1 C86.2,105.7 84.6,107.8 83.9,110.0 C83.2,112.2 83.1,114.9 83.5,117.3 C83.9,119.7 84.7,122.3 86.1,124.6 C87.5,126.9 89.8,129.5 92.0,131.2 C94.2,132.9 96.6,134.1 99.3,134.9 C102.0,135.8 105.1,136.6 108.0,136.3 C110.9,136.1 114.3,134.7 116.8,133.4 C119.2,132.1 121.2,130.2 122.7,128.3 C124.2,126.4 125.0,124.0 125.6,121.7 C126.2,119.4 127.0,116.1 126.3,114.4 C125.6,112.7 123.3,111.9 121.2,111.5 C119.1,111.1 116.6,112.0 113.9,112.2 C111.2,112.4 107.8,113.5 105.1,112.9 C102.4,112.3 99.6,110.1 97.8,108.5 C96.0,106.9 95.1,104.7 94.1,103.4 C93.1,102.1 93.1,100.4 92.0,100.5 Z" fill="url(#gg)"/>
<text x="162.2" y="64.7" font-family="Liberation Sans" font-size="12.5" fill="#000" text-anchor="start" fill="#111">3a1'</text>
<rect x="495" y="167" width="77" height="77.5" fill="#7f7fcc"/>
<ellipse cx="539" cy="199.5" rx="20.5" ry="21.5" transform="rotate(0 539 199.5)" fill="url(#gr)"/>
<ellipse cx="531" cy="207.7" rx="22" ry="23.5" transform="rotate(0 531 207.7)" fill="url(#gg)"/>
<text x="574.7" y="180.7" font-family="Liberation Sans" font-size="12.5" fill="#000" text-anchor="start" fill="#111">1a2''</text>
<rect x="590" y="267" width="81" height="87" fill="#7f7fcc"/>
<path d="M601.3,300.5 C601.8,296.6 602.9,289.4 605.0,285.7 C607.1,281.9 610.6,279.4 613.9,278.0 C617.2,276.6 621.9,276.6 625.0,277.6 C628.1,278.7 630.9,280.7 632.4,284.3 C633.9,287.9 634.0,294.2 633.9,299.1 C633.8,304.0 633.2,309.6 631.7,313.9 C630.2,318.2 627.6,323.0 625.0,325.0 C622.4,327.0 619.1,326.8 616.1,325.7 C613.1,324.6 609.6,321.0 607.3,318.3 C605.0,315.6 603.1,312.4 602.1,309.4 C601.1,306.4 600.8,304.4 601.3,300.5 Z" fill="url(#gg)"/>
<ellipse cx="624.3" cy="327.2" rx="3.8" ry="3.5" transform="rotate(0 624.3 327.2)" fill="url(#gh)"/>
<path d="M628.0,316.8 C628.0,312.4 629.4,307.4 630.9,303.5 C632.4,299.6 634.2,295.5 636.9,293.1 C639.6,290.8 643.8,289.4 647.2,289.4 C650.7,289.4 655.1,290.5 657.6,293.1 C660.1,295.7 661.5,300.6 662.0,305.0 C662.5,309.4 662.3,315.6 660.6,319.8 C658.9,324.0 655.2,327.9 651.7,330.2 C648.2,332.5 643.3,333.9 639.8,333.9 C636.3,333.9 632.9,333.0 630.9,330.2 C628.9,327.4 628.0,321.2 628.0,316.8 Z" fill="url(#gr)"/>
<text x="565.2" y="281.7" font-family="Liberation Sans" font-size="12.5" fill="#000" text-anchor="start" fill="#111">1e'</text>
<rect x="724" y="266" width="80" height="86" fill="#7f7fcc"/>
<path d="M741.3,292.1 C741.8,288.9 744.5,284.1 747.2,281.8 C749.9,279.5 753.5,278.2 757.5,278.1 C761.5,278.0 766.4,279.1 770.9,281.0 C775.4,282.9 780.8,286.1 784.2,289.2 C787.7,292.3 790.5,295.8 791.6,299.5 C792.7,303.2 792.6,308.2 790.9,311.4 C789.2,314.6 784.8,318.3 781.2,318.8 C777.6,319.3 773.6,316.3 769.4,314.3 C765.2,312.3 760.3,309.1 756.1,306.9 C751.9,304.7 746.7,303.5 744.2,301.0 C741.7,298.5 740.8,295.3 741.3,292.1 Z" fill="url(#gg)"/>
<path d="M739.8,323.2 C739.9,319.8 740.7,315.6 742.7,312.9 C744.7,310.2 748.1,307.6 751.6,306.9 C755.1,306.1 759.8,306.9 763.5,308.4 C767.2,309.9 771.5,312.8 773.8,315.8 C776.1,318.8 777.5,322.5 777.5,326.2 C777.5,329.9 776.4,334.9 773.8,338.0 C771.2,341.1 766.0,343.9 762.0,344.7 C758.0,345.4 753.4,344.4 750.1,342.5 C746.8,340.6 743.7,336.8 742.0,333.6 C740.3,330.4 739.7,326.6 739.8,323.2 Z" fill="url(#gr)"/>
<text x="705.2" y="280.7" font-family="Liberation Sans" font-size="12.5" fill="#000" text-anchor="start" fill="#111">1e'</text>
<rect x="506" y="361" width="73" height="78" fill="#7f7fcc"/>
<path d="M535.3,372.3 C538.0,371.6 543.9,371.6 546.7,372.3 C549.5,373.0 549.8,373.7 552.0,376.3 C554.2,378.9 557.9,384.4 560.0,387.7 C562.1,391.0 563.4,392.9 564.5,396.0 C565.6,399.1 566.8,402.7 566.7,406.0 C566.6,409.3 565.6,413.4 564.0,416.0 C562.4,418.6 559.9,420.1 557.0,421.5 C554.1,422.9 551.1,424.1 546.7,424.6 C542.3,425.1 534.8,425.1 530.7,424.3 C526.6,423.5 524.1,422.4 522.0,420.0 C519.9,417.6 518.6,413.3 518.0,410.0 C517.4,406.7 517.7,403.6 518.5,400.0 C519.3,396.4 520.7,392.2 522.7,388.3 C524.7,384.4 528.6,379.0 530.7,376.3 C532.8,373.6 532.6,373.0 535.3,372.3 Z" fill="url(#gr)"/>
<text x="580.2" y="396.7" font-family="Liberation Sans" font-size="12.5" fill="#000" text-anchor="start" fill="#111">2a'</text>
<rect x="624" y="430" width="74" height="78" fill="#7f7fcc"/>
<line x1="659" y1="446" x2="661" y2="474" stroke="#ccc" stroke-width="1.5" />
<line x1="641" y1="490" x2="661" y2="474" stroke="#ccc" stroke-width="1.5" />
<line x1="683" y1="487" x2="661" y2="474" stroke="#ccc" stroke-width="1.5" />
<ellipse cx="661" cy="474" rx="14.3" ry="16.7" transform="rotate(0 661 474)" fill="url(#gr)"/>
<ellipse cx="659" cy="446" rx="6" ry="6.7" transform="rotate(0 659 446)" fill="url(#gh)"/>
<ellipse cx="640.7" cy="490" rx="6" ry="6.7" transform="rotate(0 640.7 490)" fill="url(#gh)"/>
<ellipse cx="682.7" cy="487.3" rx="6" ry="6.7" transform="rotate(0 682.7 487.3)" fill="url(#gh)"/>
<text x="701.2" y="444.7" font-family="Liberation Sans" font-size="12.5" fill="#000" text-anchor="start" fill="#111">1a1'</text>
</svg>
</body></html>
